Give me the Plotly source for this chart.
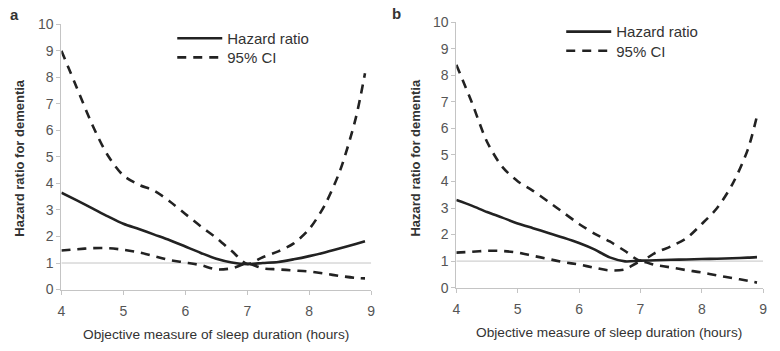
import plotly.graph_objects as go

hours = [4, 4.25, 4.5, 4.75, 5, 5.25, 5.5, 5.75, 6, 6.25, 6.5, 6.75, 7,
         7.25, 7.5, 7.75, 8, 8.25, 8.5, 8.75, 8.9]

hr_a = [3.65, 3.36, 3.06, 2.76, 2.48, 2.28, 2.07, 1.86, 1.62, 1.38, 1.16, 1.02, 0.96,
        1.0, 1.04, 1.14, 1.26, 1.4, 1.56, 1.72, 1.82]
upper_a = [9.0, 7.6, 6.2, 5.05, 4.3, 3.95, 3.72, 3.32, 2.85, 2.38, 1.95, 1.45, 0.97,
           1.22, 1.44, 1.74, 2.28, 3.18, 4.5, 6.45, 8.15]
lower_a = [1.47, 1.52, 1.56, 1.56, 1.5, 1.4, 1.26, 1.11, 1.02, 0.92, 0.76, 0.8, 0.98,
           0.8, 0.76, 0.72, 0.68, 0.6, 0.51, 0.44, 0.42]

hr_b = [3.3, 3.09, 2.85, 2.64, 2.42, 2.24, 2.06, 1.88, 1.68, 1.44, 1.14, 0.99, 1.02,
        1.03, 1.05, 1.06, 1.08, 1.09, 1.11, 1.13, 1.15]
upper_b = [8.4, 7.0, 5.5, 4.55, 4.01, 3.65, 3.24, 2.82, 2.4, 2.04, 1.74, 1.38, 1.02,
           1.32, 1.56, 1.86, 2.4, 3.0, 3.9, 5.2, 6.47]
lower_b = [1.32, 1.35, 1.39, 1.38, 1.32, 1.2, 1.08, 0.96, 0.87, 0.75, 0.65, 0.69, 0.98,
           0.85, 0.76, 0.66, 0.57, 0.46, 0.36, 0.26, 0.19]

x_ticks = [4, 5, 6, 7, 8, 9]
y_ticks = list(range(0, 11))
x_title = "Objective measure of sleep duration (hours)"
y_title = "<b>Hazard ratio for dementia</b>"
panel_labels = ["a", "b"]
legend_names = ["Hazard ratio", "95% CI"]

W, H = 780, 351
FONT = "Liberation Sans, Arial, sans-serif"
LINE = "#222222"
AXIS = "#c4c4c4"
DASH = "9px,7px"

fig = go.Figure()

panels = [
    (hr_a, upper_a, lower_a, "x", "y", "legend", "legend2"),
    (hr_b, upper_b, lower_b, "x2", "y2", "legend3", "legend4"),
]
for hr, up, lo, xa, ya, lg1, lg2 in panels:
    fig.add_trace(go.Scatter(x=hours, y=hr, mode="lines", name=legend_names[0],
                             line=dict(color=LINE, width=2.6, shape="spline", smoothing=0.8),
                             xaxis=xa, yaxis=ya, legend=lg1))
    fig.add_trace(go.Scatter(x=hours, y=up, mode="lines", name=legend_names[1],
                             line=dict(color=LINE, width=2.6, dash=DASH, shape="spline", smoothing=0.8),
                             xaxis=xa, yaxis=ya, legend=lg2))
    fig.add_trace(go.Scatter(x=hours, y=lo, mode="lines", name=legend_names[1], showlegend=False,
                             line=dict(color=LINE, width=2.6, dash=DASH, shape="spline", smoothing=0.8),
                             xaxis=xa, yaxis=ya, legend=lg2))
    fig.add_shape(type="line", x0=4, x1=9, y0=1, y1=1, xref=xa, yref=ya,
                  line=dict(color=AXIS, width=1), layer="below")

def xaxis(domain, anchor):
    return dict(domain=domain, anchor=anchor, range=[4, 9], tickvals=x_ticks,
                showline=True, linecolor=AXIS, linewidth=1, ticks="outside", ticklen=4,
                tickcolor=AXIS, showgrid=False, zeroline=False, ticklabelstandoff=5,
                tickfont=dict(family=FONT, size=14, color="#555555"))

def yaxis(domain, anchor):
    return dict(domain=domain, anchor=anchor, range=[0, 10], tickvals=y_ticks,
                showline=True, linecolor=AXIS, linewidth=1, ticks="outside", ticklen=4,
                tickcolor=AXIS, showgrid=False, zeroline=False,
                tickfont=dict(family=FONT, size=14, color="#555555"))

def legend(xpx, ypx):
    return dict(x=xpx / W, y=1 - ypx / H, xanchor="left", yanchor="middle",
                font=dict(family=FONT, size=15, color="#333333"),
                bgcolor="rgba(0,0,0,0)", itemwidth=45)

fig.update_layout(
    width=W, height=H, margin=dict(l=0, r=0, t=0, b=0),
    paper_bgcolor="white", plot_bgcolor="white",
    xaxis=xaxis([58 / W, 371 / W], "y"),
    yaxis=yaxis([56 / H, 334 / H], "x"),
    xaxis2=xaxis([457 / W, 767 / W], "y2"),
    yaxis2=yaxis([58 / H, 336 / H], "x2"),
    legend=legend(170, 32),
    legend2=legend(170, 52),
    legend3=legend(563, 25),
    legend4=legend(563, 45),
    showlegend=True,
)

annots = [
    dict(text="<b>" + panel_labels[0] + "</b>", x=11, y=7, size=15),
    dict(text="<b>" + panel_labels[1] + "</b>", x=397, y=6, size=15),
    dict(text=y_title, x=16, y=157, size=13, angle=-90),
    dict(text=y_title, x=416, y=157, size=13, angle=-90),
    dict(text=x_title, x=214, y=342, size=13.7),
    dict(text=x_title, x=611, y=340, size=13.7),
]
for a in annots:
    fig.add_annotation(text=a["text"], x=a["x"] / W, y=1 - a["y"] / H, xref="paper", yref="paper",
                       xanchor="center", yanchor="middle", showarrow=False,
                       textangle=a.get("angle", 0),
                       font=dict(family=FONT, size=a["size"], color="#333333"))

fig.write_html("out.html")
